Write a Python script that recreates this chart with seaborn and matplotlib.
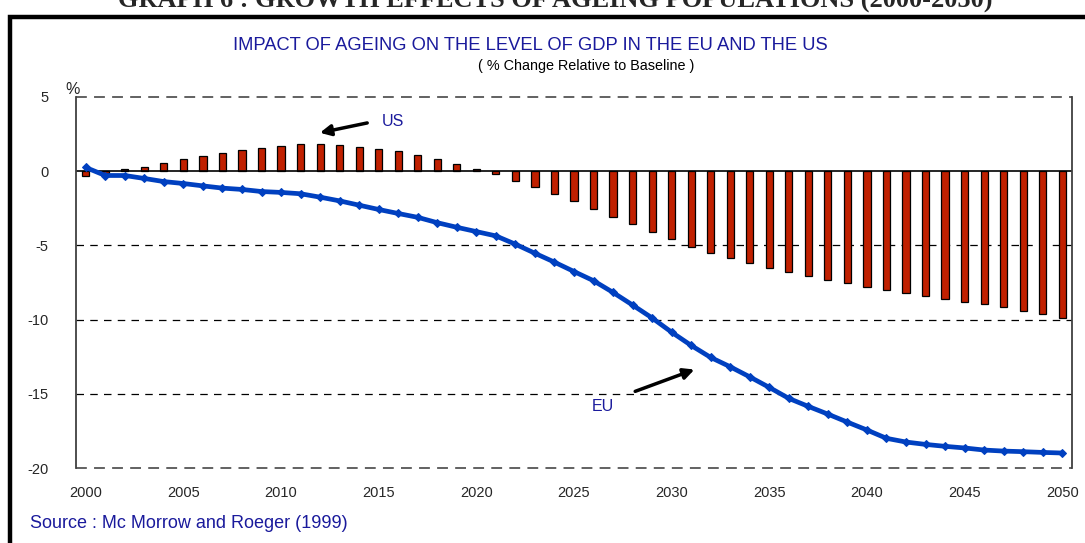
import matplotlib
matplotlib.use("Agg")
import matplotlib.pyplot as plt
import numpy as np
import pandas as pd
import seaborn as sns
from matplotlib.patches import Rectangle

years = list(range(2000, 2051))

us_level = [
    -0.30, -0.12, 0.13, 0.31, 0.58, 0.81, 1.05, 1.26, 1.41, 1.59,
    1.73, 1.86, 1.86, 1.77, 1.66, 1.52, 1.35, 1.08, 0.81, 0.47,
    0.16, -0.22, -0.63, -1.08, -1.55, -2.04, -2.56, -3.07, -3.57, -4.08,
    -4.57, -5.09, -5.50, -5.86, -6.18, -6.50, -6.81, -7.05, -7.30, -7.54,
    -7.77, -8.01, -8.21, -8.39, -8.59, -8.79, -8.95, -9.15, -9.40, -9.62,
    -9.87,
]

eu_level = [
    0.25, -0.29, -0.29, -0.49, -0.70, -0.83, -0.99, -1.14, -1.23, -1.37,
    -1.43, -1.52, -1.75, -2.00, -2.29, -2.58, -2.85, -3.11, -3.47, -3.78,
    -4.07, -4.36, -4.92, -5.53, -6.13, -6.76, -7.38, -8.17, -9.02, -9.89,
    -10.85, -11.74, -12.55, -13.18, -13.86, -14.57, -15.31, -15.85, -16.37, -16.91,
    -17.44, -18.00, -18.25, -18.41, -18.54, -18.65, -18.79, -18.86, -18.90, -18.95,
    -18.99,
]

y_ticks = [5, 0, -5, -10, -15, -20]
x_ticks = list(range(2000, 2051, 5))

BAR_RED = "#c02000"
LINE_BLUE = "#0040c0"
TEXT_BLUE = "#1a1a9c"

df = pd.DataFrame({"year": years, "US": us_level, "EU": eu_level})

sns.set_style("white")
plt.rcParams["font.family"] = ["Liberation Sans", "DejaVu Sans"]

fig = plt.figure(figsize=(10.85, 5.43), dpi=100)
ax = fig.add_axes([76 / 1085, 1 - 468 / 543, (1072 - 76) / 1085, (468 - 97) / 543])

sns.barplot(
    data=df, x="year", y="US", native_scale=True, width=0.37,
    color=BAR_RED, edgecolor="black", linewidth=0.9, saturation=1, ax=ax,
)
sns.lineplot(
    data=df, x="year", y="EU", color=LINE_BLUE, linewidth=3.4,
    marker="D", markersize=4.5, markeredgecolor=LINE_BLUE, ax=ax, zorder=5,
)

ax.set_xlim(1999.5, 2050.5)
ax.set_ylim(-20, 5)
ax.set_yticks(y_ticks)
ax.set_xticks(x_ticks)
ax.set_xticklabels([str(y) for y in x_ticks], fontsize=10.5)
ax.set_yticklabels([str(y) for y in y_ticks], fontsize=10.5)
ax.tick_params(axis="y", length=0, pad=20)
ax.tick_params(axis="x", length=0, pad=13)
ax.set_xlabel("")
ax.set_ylabel("")

for v in y_ticks:
    if v == 0:
        ax.axhline(0, color="black", lw=1.2, zorder=1)
    elif v in (5, -20):
        ax.axhline(v, color="#555555", lw=1.3, ls=(0, (6, 4)), zorder=0, clip_on=False)
    else:
        ax.axhline(v, color="black", lw=0.9, ls=(0, (6, 5)), zorder=0)

for side in ["top", "bottom"]:
    ax.spines[side].set_visible(False)
for side in ["left", "right"]:
    ax.spines[side].set_color("#404040")
    ax.spines[side].set_linewidth(1.3)

# annotations
ax.annotate(
    "", xy=(2011.85, 2.55), xytext=(2014.55, 3.29),
    arrowprops=dict(arrowstyle="-|>", color="black", lw=2.5, mutation_scale=16),
)
ax.text(2015.15, 3.36, "US", color=TEXT_BLUE, fontsize=11.5, va="center", ha="left")
ax.annotate(
    "", xy=(2031.3, -13.3), xytext=(2028.0, -14.9),
    arrowprops=dict(arrowstyle="-|>", color="black", lw=2.5, mutation_scale=16),
)
ax.text(2026.5, -15.85, "EU", color=TEXT_BLUE, fontsize=11.5, va="center", ha="center")

# figure texts
fig.text(555 / 1085, 1 - 8 / 543, "GRAPH 6 : GROWTH EFFECTS OF AGEING POPULATIONS (2000-2050)",
         family=["Liberation Serif", "DejaVu Serif"], fontweight="bold", fontsize=19,
         ha="center", va="baseline")
fig.text(530 / 1085, 1 - 45 / 543, "IMPACT OF AGEING ON THE LEVEL OF GDP IN THE EU AND THE US",
         family=["Liberation Sans Narrow", "Liberation Sans"], fontsize=13.2,
         color=TEXT_BLUE, ha="center", va="center")
fig.text(586 / 1085, 1 - 66 / 543, "( % Change Relative to Baseline )",
         fontsize=10.4, color="black", ha="center", va="center")
fig.text(73 / 1085, 1 - 90 / 543, "%", fontsize=11.5, ha="center", va="center")
fig.text(30 / 1085, 1 - 524 / 543, "Source : Mc Morrow and Roeger (1999)",
         fontsize=13, color=TEXT_BLUE, ha="left", va="center")

fig.patches.append(Rectangle((10 / 1085, -0.05), 1.2, 1.05 - 17 / 543,
                             transform=fig.transFigure, fill=False,
                             edgecolor="black", lw=3.2, zorder=10))

fig.savefig("out.png", dpi=100)
